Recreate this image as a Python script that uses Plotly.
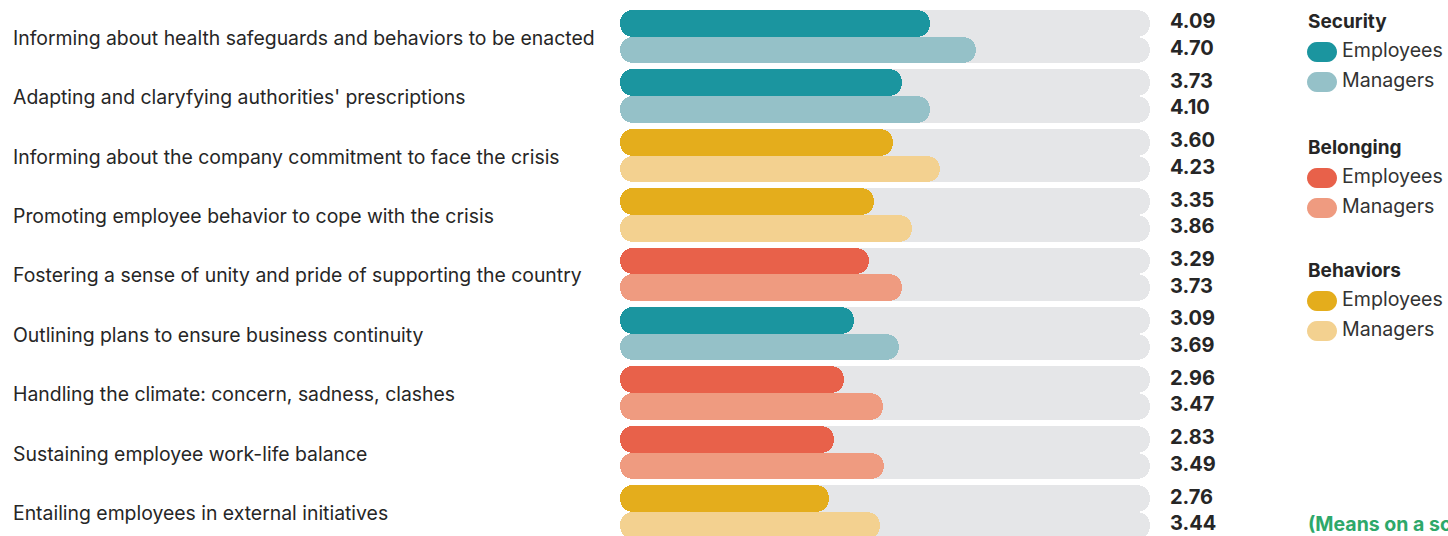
import math
import plotly.graph_objects as go

# ---------------- data ----------------
categories = [
    "Informing about health safeguards and behaviors to be enacted",
    "Adapting and claryfying authorities' prescriptions",
    "Informing about the company commitment to face the crisis",
    "Promoting employee behavior to cope with the crisis",
    "Fostering a sense of unity and pride of supporting the country",
    "Outlining plans to ensure business continuity",
    "Handling the climate: concern, sadness, clashes",
    "Sustaining employee work-life balance",
    "Entailing employees in external initiatives",
]
dimension = ["Security", "Security", "Behaviors", "Behaviors", "Belonging",
             "Security", "Belonging", "Belonging", "Behaviors"]
employees = [4.09, 3.73, 3.60, 3.35, 3.29, 3.09, 2.96, 2.83, 2.76]
managers = [4.70, 4.10, 4.23, 3.86, 3.73, 3.69, 3.47, 3.49, 3.44]
scale_max = 7
legend_groups = ["Security", "Belonging", "Behaviors"]
series_names = ["Employees", "Managers"]
note_text = "(Means on a scale from 1 to 7)"

# ---------------- styles ----------------
COLORS = {
    "Security": ("#1b959f", "#95c1c8"),
    "Belonging": ("#e8614a", "#ef9b80"),
    "Behaviors": ("#e4ad1c", "#f3d190"),
}
GRAY = "#e5e6e8"
TEXT = "#262626"
FONT = "Inter"

W, H = 1448, 536
ML, MR = 620, 298
PLOT_W = W - ML - MR
PITCH = 59.4          # px per category
BAR_W = 0.45          # in category units
OFF = BAR_W / 2
top_center_px = 36.7
y_top = -top_center_px / PITCH
y_bot = (len(categories) - 1) + (H - (top_center_px + (len(categories) - 1) * PITCH)) / PITCH


def px_to_paper_x(px):
    return (px - ML) / PLOT_W


def px_to_paper_y(py):
    return 1 - py / H


idx = list(range(len(categories)))
y_emp = [i - OFF for i in idx]
y_mgr = [i + OFF for i in idx]
emp_colors = [COLORS[d][0] for d in dimension]
mgr_colors = [COLORS[d][1] for d in dimension]

cap = 0.2  # start of gray track (hidden under rounded left caps)

fig = go.Figure()

# gray tracks
for ys in (y_emp, y_mgr):
    fig.add_trace(go.Bar(
        y=ys, x=[scale_max - cap] * len(ys), base=[cap] * len(ys),
        orientation="h", width=BAR_W, marker=dict(color=GRAY, cornerradius="50%",
                                                  line=dict(width=0)),
        showlegend=False, hoverinfo="skip"))

# value bars: rounded at right end, plus reversed copy rounded at left end
for ys, vals, cols, name in ((y_emp, employees, emp_colors, "Employees"),
                             (y_mgr, managers, mgr_colors, "Managers")):
    fig.add_trace(go.Bar(
        y=ys, x=vals, base=[0] * len(vals), orientation="h", width=BAR_W,
        marker=dict(color=cols, cornerradius="50%", line=dict(width=0)),
        name=name, showlegend=False,
        customdata=categories, hovertemplate="%{customdata}<br>%{x:.2f}<extra>" + name + "</extra>"))
    fig.add_trace(go.Bar(
        y=ys, x=[-v for v in vals], base=vals, orientation="h", width=BAR_W,
        marker=dict(color=cols, cornerradius="50%", line=dict(width=0)),
        showlegend=False, hoverinfo="skip"))

annotations = []
# value labels
for ys, vals in ((y_emp, employees), (y_mgr, managers)):
    for y, v in zip(ys, vals):
        annotations.append(dict(
            x=px_to_paper_x(1168), y=y, xref="paper", yref="y", text=f"<b>{v:.2f}</b>",
            showarrow=False, xanchor="left", yanchor="middle", yshift=2,
            font=dict(family=FONT, size=20, color=TEXT)))

# category labels
for i, c in enumerate(categories):
    annotations.append(dict(
        x=px_to_paper_x(11), y=i, xref="paper", yref="y", text=c, showarrow=False,
        xanchor="left", yanchor="middle", yshift=-1,
        font=dict(family=FONT, size=19.4, color=TEXT)))

# manual legend with pill swatches (pixel-sized polygons)
def pill_path(w=30, h=20, n=12):
    r = h / 2
    pts = []
    for k in range(n + 1):
        a = -math.pi / 2 + math.pi * k / n
        pts.append((w - r + r * math.cos(a), r * math.sin(a)))
    for k in range(n + 1):
        a = math.pi / 2 + math.pi * k / n
        pts.append((r + r * math.cos(a), r * math.sin(a)))
    return "M " + " L ".join(f"{x:.2f},{y:.2f}" for x, y in pts) + " Z"


PILL = pill_path()
shapes = []
leg_x_px = 1307
group_title_px = [21, 147, 270]
for g, ty in zip(legend_groups, group_title_px):
    annotations.append(dict(
        x=px_to_paper_x(leg_x_px - 1), y=px_to_paper_y(ty), xref="paper", yref="paper",
        text=f"<b>{g}</b>", showarrow=False, xanchor="left", yanchor="middle",
        font=dict(family=FONT, size=19, color=TEXT)))
    for k, s in enumerate(series_names):
        cy = ty + 31 + k * 30
        col = COLORS[g][k]
        shapes.append(dict(
            type="path", xref="paper", yref="paper",
            xsizemode="pixel", ysizemode="pixel",
            xanchor=px_to_paper_x(leg_x_px), yanchor=px_to_paper_y(cy),
            path=PILL, fillcolor=col, line=dict(width=0)))
        annotations.append(dict(
            x=px_to_paper_x(1340), y=px_to_paper_y(cy - 2), xref="paper", yref="paper",
            text=s, showarrow=False, xanchor="left", yanchor="middle",
            font=dict(family=FONT, size=19.6, color="#333333")))

annotations.append(dict(
    x=px_to_paper_x(1306), y=px_to_paper_y(524), xref="paper", yref="paper",
    text=f"<b>{note_text}</b>", showarrow=False, xanchor="left", yanchor="middle",
    font=dict(family=FONT, size=19.5, color="#2ea86a")))

fig.update_layout(
    width=W, height=H, margin=dict(l=ML, r=MR, t=0, b=0, pad=0),
    paper_bgcolor="white", plot_bgcolor="white",
    barmode="overlay", bargap=0,
    xaxis=dict(range=[0, scale_max], visible=False, fixedrange=True),
    yaxis=dict(range=[y_bot, y_top], visible=False, fixedrange=True),
    annotations=annotations, shapes=shapes,
    showlegend=False,
    font=dict(family=FONT),
)

fig.write_html("out.html", config={"displayModeBar": False})
